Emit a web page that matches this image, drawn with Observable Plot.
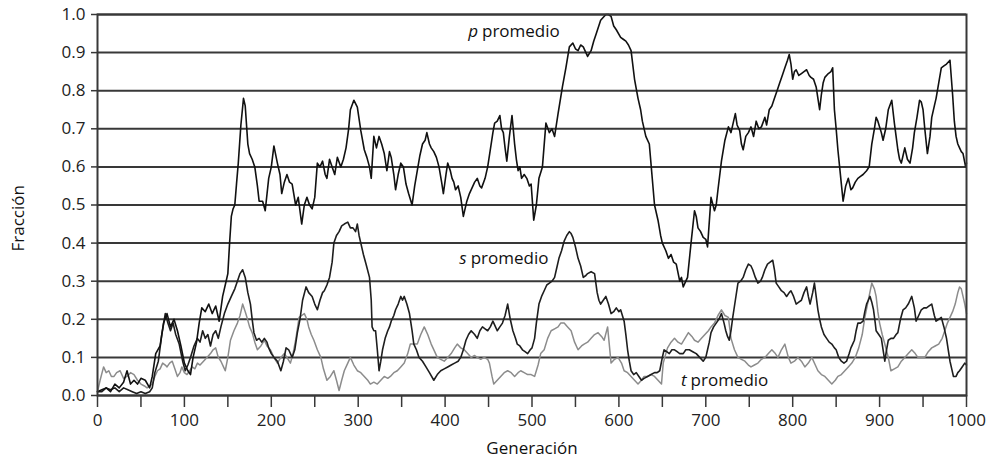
<!DOCTYPE html>
<html>
<head>
<meta charset="utf-8">
<script src="https://cdn.jsdelivr.net/npm/d3@7"></script>
<script src="https://cdn.jsdelivr.net/npm/@observablehq/plot@0.6"></script>
<style>
  html, body { margin: 0; padding: 0; background: #fff; }
</style>
</head>
<body>
<div id="chart"></div>
<script>
// ---- data ----
const pGen = [0,5,10,15,20,25,30,34,38,42,46,50,55,60,63,67,72,76,80,84,88,92,96,100,104,107,110,114,117,120,124,128,132,136,140,144,148,150,152,154,156,158,160,162,165,168,170,173,175,178,181,184,186,190,193,197,200,203,207,210,212,215,218,221,224,228,231,235,238,241,244,247,250,253,256,259,262,264,267,270,273,276,280,283,286,289,291,295,299,303,307,310,313,315,318,321,324,327,330,333,336,338,341,343,346,349,352,355,358,362,365,368,371,374,377,379,382,384,387,390,393,396,398,401,403,406,408,410,412,415,418,421,425,428,431,434,437,440,442,446,449,452,455,457,460,463,465,467,469,471,474,477,480,482,484,486,488,491,494,497,499,502,505,508,512,516,520,523,526,530,535,539,543,547,550,553,556,559,562,564,568,571,574,579,585,588,591,594,597,602,605,608,611,614,618,622,625,627,631,635,638,641,645,648,650,654,657,660,663,666,670,672,674,677,679,683,687,689,691,694,697,700,702,706,710,712,714,718,722,726,729,732,734,736,739,741,743,746,749,752,755,758,761,764,768,770,773,776,779,782,785,788,791,794,796,798,800,802,804,807,810,813,816,819,821,824,827,829,831,833,835,837,841,844,846,848,850,852,854,856,858,861,864,867,869,872,875,878,881,885,888,891,894,896,898,900,902,904,907,910,914,917,919,921,923,925,927,929,932,935,938,940,943,946,948,950,952,955,958,960,963,965,968,971,974,977,981,984,986,988,990,992,994,996,999,1000];
const pVal = [0.01,0.015,0.02,0.01,0.03,0.02,0.035,0.065,0.03,0.04,0.03,0.045,0.04,0.02,0.05,0.11,0.13,0.19,0.215,0.18,0.2,0.17,0.13,0.085,0.065,0.055,0.1,0.14,0.19,0.23,0.22,0.24,0.215,0.235,0.195,0.26,0.3,0.32,0.4,0.47,0.49,0.5,0.556,0.61,0.71,0.78,0.76,0.66,0.635,0.62,0.6,0.55,0.51,0.51,0.485,0.57,0.6,0.655,0.61,0.58,0.53,0.56,0.58,0.56,0.555,0.5,0.52,0.45,0.5,0.52,0.5,0.49,0.52,0.61,0.6,0.615,0.58,0.57,0.62,0.6,0.58,0.625,0.6,0.62,0.65,0.7,0.75,0.775,0.757,0.695,0.645,0.625,0.6,0.57,0.68,0.65,0.68,0.66,0.635,0.59,0.64,0.625,0.58,0.54,0.58,0.61,0.6,0.555,0.53,0.5,0.55,0.59,0.63,0.66,0.67,0.69,0.66,0.65,0.64,0.625,0.6,0.56,0.53,0.58,0.61,0.59,0.57,0.56,0.54,0.55,0.52,0.47,0.51,0.53,0.545,0.56,0.57,0.55,0.545,0.57,0.6,0.645,0.69,0.715,0.72,0.735,0.7,0.69,0.65,0.615,0.68,0.735,0.66,0.62,0.59,0.6,0.57,0.58,0.57,0.55,0.555,0.46,0.5,0.57,0.6,0.715,0.69,0.7,0.68,0.74,0.81,0.86,0.915,0.925,0.91,0.905,0.92,0.915,0.9,0.89,0.905,0.93,0.95,0.985,1.0,1.0,0.995,0.97,0.96,0.94,0.935,0.93,0.92,0.905,0.83,0.78,0.75,0.72,0.68,0.66,0.58,0.5,0.46,0.42,0.4,0.38,0.36,0.37,0.35,0.345,0.3,0.31,0.285,0.3,0.31,0.4,0.485,0.47,0.44,0.43,0.415,0.41,0.39,0.52,0.485,0.5,0.54,0.615,0.67,0.705,0.69,0.72,0.74,0.71,0.695,0.66,0.645,0.68,0.69,0.705,0.68,0.72,0.7,0.705,0.73,0.71,0.75,0.76,0.78,0.8,0.82,0.84,0.86,0.88,0.895,0.87,0.83,0.85,0.855,0.84,0.845,0.85,0.855,0.84,0.835,0.83,0.81,0.78,0.75,0.79,0.82,0.835,0.845,0.85,0.86,0.75,0.7,0.645,0.6,0.555,0.51,0.55,0.57,0.54,0.545,0.56,0.57,0.575,0.58,0.59,0.6,0.66,0.7,0.73,0.72,0.705,0.69,0.67,0.7,0.75,0.775,0.715,0.68,0.645,0.62,0.61,0.63,0.65,0.62,0.61,0.65,0.69,0.73,0.775,0.77,0.75,0.7,0.635,0.68,0.73,0.76,0.78,0.82,0.86,0.865,0.87,0.88,0.79,0.72,0.68,0.66,0.65,0.64,0.635,0.6,0.61];

const sGen = [0,5,10,15,20,25,30,35,40,45,50,55,60,63,66,70,74,78,81,84,87,90,94,98,101,104,107,111,115,118,121,124,127,130,133,136,139,142,146,150,154,158,161,164,167,170,173,176,178,180,183,186,189,192,195,197,200,203,207,211,214,217,220,224,227,230,233,236,240,243,247,250,253,256,259,261,264,267,270,272,275,278,281,284,288,291,294,297,299,301,303,306,309,313,315,316,318,320,322,324,326,328,331,334,336,338,341,343,346,349,351,353,356,359,362,364,367,370,374,378,382,387,391,395,399,403,407,411,415,418,421,424,427,430,434,437,440,443,446,449,452,455,458,460,463,466,469,472,475,478,481,483,486,489,492,495,498,500,503,505,508,511,514,517,520,523,526,528,531,534,537,540,543,545,547,550,553,556,559,562,564,568,572,575,577,579,582,585,588,591,594,597,600,602,604,606,608,610,612,614,617,620,623,626,629,633,637,641,644,647,650,652,655,658,661,664,667,670,674,677,681,685,689,693,697,700,702,704,706,709,712,715,718,721,723,725,727,729,731,734,737,740,743,746,749,752,754,757,760,763,765,768,771,774,777,779,781,784,787,790,793,796,798,801,804,807,810,813,816,818,820,823,825,827,829,831,833,836,839,842,845,848,850,853,856,859,862,865,867,869,871,873,875,878,881,883,885,887,889,891,893,895,896,899,902,904,906,908,910,913,916,919,921,924,927,930,933,935,937,940,942,945,948,951,954,957,960,963,965,968,971,974,977,979,981,983,985,988,990,992,995,998,1000];
const sVal = [0.01,0.01,0.02,0.015,0.02,0.01,0.02,0.015,0.01,0.005,0.01,0.005,0.01,0.02,0.06,0.09,0.16,0.215,0.19,0.17,0.19,0.16,0.135,0.09,0.065,0.08,0.1,0.13,0.15,0.14,0.17,0.15,0.16,0.13,0.16,0.17,0.15,0.18,0.215,0.24,0.26,0.28,0.3,0.32,0.33,0.31,0.27,0.24,0.2,0.165,0.145,0.15,0.14,0.15,0.14,0.125,0.11,0.1,0.09,0.065,0.09,0.125,0.12,0.1,0.12,0.165,0.2,0.25,0.285,0.27,0.26,0.24,0.225,0.25,0.27,0.275,0.29,0.31,0.35,0.4,0.42,0.43,0.445,0.45,0.455,0.44,0.44,0.43,0.45,0.42,0.4,0.37,0.345,0.31,0.25,0.18,0.17,0.17,0.12,0.065,0.09,0.12,0.15,0.17,0.18,0.195,0.21,0.225,0.24,0.26,0.25,0.26,0.24,0.215,0.17,0.135,0.12,0.1,0.09,0.075,0.06,0.04,0.055,0.065,0.07,0.075,0.08,0.085,0.09,0.1,0.12,0.145,0.16,0.17,0.16,0.15,0.17,0.18,0.175,0.17,0.18,0.195,0.18,0.17,0.18,0.19,0.21,0.24,0.2,0.17,0.15,0.135,0.13,0.12,0.115,0.11,0.12,0.125,0.15,0.19,0.24,0.26,0.275,0.29,0.295,0.3,0.31,0.33,0.36,0.38,0.405,0.42,0.43,0.425,0.415,0.39,0.36,0.34,0.31,0.315,0.32,0.325,0.32,0.27,0.25,0.24,0.25,0.26,0.24,0.215,0.22,0.23,0.22,0.225,0.21,0.195,0.16,0.12,0.09,0.065,0.055,0.06,0.05,0.04,0.045,0.05,0.055,0.06,0.06,0.065,0.1,0.12,0.115,0.11,0.12,0.12,0.115,0.11,0.11,0.12,0.12,0.115,0.11,0.1,0.09,0.1,0.12,0.14,0.165,0.18,0.19,0.2,0.215,0.19,0.17,0.155,0.145,0.17,0.205,0.25,0.295,0.3,0.31,0.33,0.345,0.34,0.33,0.31,0.295,0.3,0.31,0.33,0.345,0.35,0.355,0.33,0.295,0.285,0.275,0.27,0.26,0.27,0.275,0.26,0.24,0.245,0.25,0.27,0.285,0.26,0.24,0.27,0.295,0.26,0.225,0.2,0.18,0.16,0.15,0.14,0.135,0.125,0.12,0.1,0.09,0.085,0.09,0.11,0.125,0.135,0.145,0.17,0.19,0.19,0.195,0.22,0.24,0.25,0.26,0.245,0.225,0.19,0.17,0.16,0.15,0.12,0.09,0.12,0.145,0.15,0.15,0.16,0.165,0.2,0.225,0.23,0.24,0.25,0.26,0.23,0.195,0.21,0.225,0.23,0.23,0.235,0.24,0.21,0.195,0.2,0.205,0.18,0.15,0.12,0.09,0.07,0.05,0.05,0.06,0.065,0.075,0.085,0.08];

const tGen = [0,3,7,10,13,16,19,22,26,30,34,38,42,46,50,54,57,60,63,66,69,72,75,78,80,83,86,89,92,95,97,100,103,106,109,112,115,118,122,126,130,133,136,139,142,145,147,150,153,157,161,164,167,170,172,175,178,181,184,188,192,195,199,203,207,211,215,218,222,225,228,232,235,238,241,243,246,249,253,257,260,264,268,272,275,278,281,284,288,291,295,299,303,307,311,314,318,322,326,330,334,337,341,345,349,353,357,360,364,368,372,376,380,384,388,391,395,399,403,407,411,414,418,422,426,430,434,437,441,445,449,451,454,456,460,464,468,472,476,480,484,487,491,495,499,503,507,510,514,518,522,526,530,533,537,541,545,549,553,557,560,564,568,572,576,580,583,587,591,595,599,603,606,610,614,618,622,626,629,633,637,641,645,649,651,654,656,660,664,668,672,676,680,684,687,691,695,699,703,706,710,714,718,722,726,729,733,737,741,745,749,752,756,760,764,768,772,776,780,783,787,791,795,798,802,806,810,814,818,822,826,829,833,837,841,845,849,852,856,860,864,868,872,876,880,883,887,891,894,896,898,900,903,906,910,913,917,921,925,929,933,937,941,944,948,952,956,960,964,968,972,975,978,981,984,987,990,992,994,996,998,1000];
const tVal = [0.01,0.04,0.075,0.06,0.065,0.05,0.05,0.06,0.065,0.045,0.05,0.06,0.055,0.04,0.03,0.025,0.02,0.025,0.03,0.05,0.065,0.07,0.085,0.08,0.075,0.085,0.09,0.07,0.05,0.06,0.075,0.06,0.055,0.065,0.075,0.07,0.085,0.08,0.09,0.1,0.11,0.12,0.125,0.1,0.09,0.075,0.065,0.1,0.145,0.17,0.19,0.21,0.24,0.22,0.205,0.18,0.165,0.14,0.12,0.13,0.145,0.13,0.12,0.1,0.085,0.1,0.11,0.1,0.085,0.11,0.145,0.205,0.21,0.215,0.2,0.18,0.16,0.145,0.12,0.1,0.07,0.04,0.05,0.065,0.04,0.013,0.04,0.065,0.085,0.1,0.08,0.065,0.06,0.05,0.04,0.03,0.035,0.03,0.04,0.05,0.045,0.05,0.06,0.065,0.075,0.085,0.11,0.135,0.135,0.135,0.16,0.18,0.16,0.135,0.115,0.1,0.095,0.09,0.1,0.11,0.125,0.135,0.125,0.12,0.11,0.1,0.105,0.1,0.095,0.1,0.095,0.085,0.05,0.03,0.04,0.05,0.06,0.065,0.06,0.05,0.06,0.065,0.06,0.055,0.055,0.05,0.08,0.11,0.12,0.15,0.17,0.175,0.18,0.19,0.19,0.18,0.17,0.14,0.12,0.13,0.135,0.14,0.15,0.16,0.165,0.155,0.145,0.18,0.085,0.095,0.1,0.085,0.065,0.06,0.05,0.04,0.03,0.04,0.05,0.05,0.055,0.05,0.04,0.03,0.085,0.11,0.125,0.14,0.15,0.14,0.135,0.15,0.165,0.155,0.145,0.14,0.15,0.16,0.17,0.18,0.19,0.21,0.225,0.21,0.205,0.15,0.12,0.1,0.095,0.09,0.08,0.075,0.08,0.085,0.095,0.1,0.11,0.12,0.11,0.1,0.12,0.135,0.1,0.085,0.09,0.1,0.09,0.075,0.085,0.1,0.08,0.065,0.055,0.05,0.04,0.03,0.04,0.05,0.055,0.065,0.075,0.085,0.1,0.125,0.16,0.205,0.25,0.295,0.28,0.26,0.22,0.19,0.16,0.135,0.1,0.065,0.07,0.075,0.09,0.1,0.11,0.12,0.11,0.1,0.1,0.1,0.115,0.125,0.13,0.135,0.15,0.17,0.19,0.205,0.22,0.24,0.27,0.285,0.28,0.26,0.24,0.215];

// axis ticks and labels
const xTicks = d3.range(0, 1001, 50);
const yTicks = d3.range(0, 11).map(i => i / 10);
const xTitle = "Generación";
const yTitle = "Fracción";
const yTitleAt = 0.465;
const seriesLetter = ["p", "s", "t"];
const seriesWord = ["promedio", "promedio", "promedio"];
const labelGen = [439, 426, 679];
const labelVal = [0.955, 0.36, 0.038];

// ---- build tables ----
const toRows = (gens, vals) => gens.map((g, i) => ({gen: g, value: vals[i]}));
const pRows = toRows(pGen, pVal);
const sRows = toRows(sGen, sVal);
const tRows = toRows(tGen, tVal);
const labels = seriesLetter.map((l, i) => ({letter: l, word: seriesWord[i], gen: labelGen[i], value: labelVal[i]}));

const FONT = "'Open Sans', 'Noto Sans', sans-serif";

const chart = Plot.plot({
  width: 995,
  height: 461,
  marginLeft: 97,
  marginRight: 29,
  marginTop: 14,
  marginBottom: 66,
  style: {fontFamily: FONT, fontSize: "17px", color: "#222", background: "#fff"},
  x: {domain: [0, 1000], label: null},
  y: {domain: [0, 1], label: null},
  marks: [
    Plot.ruleY(yTicks, {stroke: "#383838", strokeWidth: 2}),
    Plot.line(tRows, {x: "gen", y: "value", stroke: "#8c8c8c", strokeWidth: 1.5}),
    Plot.line(sRows, {x: "gen", y: "value", stroke: "#1e1e1e", strokeWidth: 1.6}),
    Plot.line(pRows, {x: "gen", y: "value", stroke: "#111", strokeWidth: 1.6}),
    Plot.frame({stroke: "#383838", strokeWidth: 2}),
    Plot.axisX({ticks: xTicks, tickSize: 12, tickPadding: 6, tickFormat: d => d % 100 === 0 ? String(d) : "", label: null, stroke: "#383838", strokeWidth: 1.5}),
    Plot.axisY({ticks: yTicks, tickSize: 6, tickPadding: 6, tickFormat: d3.format(".1f"), label: null, stroke: "#383838", strokeWidth: 1.5}),
    Plot.text(labels, {x: "gen", y: "value", text: "letter", textAnchor: "end", fontStyle: "italic", fill: "#111", fontSize: 17, dx: -1}),
    Plot.text(labels, {x: "gen", y: "value", text: "word", textAnchor: "start", fill: "#111", fontSize: 17, dx: 3}),
    Plot.text([xTitle], {frameAnchor: "bottom", textAnchor: "middle", lineAnchor: "middle", dy: 53, text: d => d, fill: "#111", fontSize: 17}),
    Plot.text([yTitle], {frameAnchor: "left", y: () => yTitleAt, textAnchor: "middle", lineAnchor: "middle", dx: -79, rotate: -90, text: d => d, fill: "#111", fontSize: 17})
  ]
});

document.getElementById("chart").appendChild(chart);
</script>
</body>
</html>
